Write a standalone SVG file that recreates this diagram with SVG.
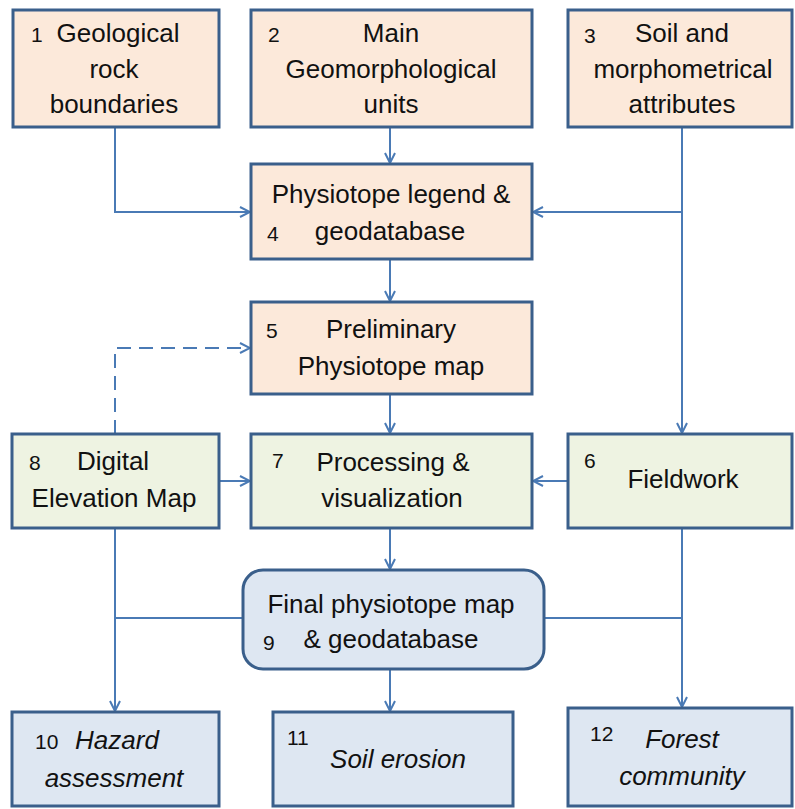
<svg xmlns="http://www.w3.org/2000/svg" width="795" height="809" viewBox="0 0 795 809">
<style>
.box{stroke:#3A5F8B;stroke-width:3}
.peach{fill:#FCE9DA}
.green{fill:#EEF3E2}
.blue{fill:#DEE7F2}
.t{font-family:"Liberation Sans",Arial,sans-serif;font-size:26px;fill:#111}
.c{text-anchor:middle}
.n{font-family:"Liberation Sans",Arial,sans-serif;font-size:21px;fill:#111}
.i{font-style:italic}
.ln{fill:none;stroke:#4A7AB5;stroke-width:2}
.arr{marker-end:url(#ah)}
.dash{stroke-dasharray:14,8}
</style>
<defs>
<marker id="ah" markerUnits="userSpaceOnUse" viewBox="0 0 12 12" refX="11" refY="6" markerWidth="12" markerHeight="12" orient="auto">
<path d="M1,1 L11,6 L1,11" fill="none" stroke="#4A7AB5" stroke-width="2"/>
</marker>
</defs>
<rect width="795" height="809" fill="#fff"/>
<g id="connectors">
<path class="ln arr" d="M115,128 V212 H250"/>
<path class="ln arr" d="M390,128 V163"/>
<path class="ln arr" d="M682,128 V433"/>
<path class="ln arr" d="M682,212 H533"/>
<path class="ln arr" d="M390,259 V301"/>
<path class="ln arr dash" d="M115,434 V348 H250"/>
<path class="ln arr" d="M390,394 V433"/>
<path class="ln arr" d="M219,481 H250"/>
<path class="ln arr" d="M568,481 H533"/>
<path class="ln arr" d="M390,528 V569"/>
<path class="ln arr" d="M115,528 V711"/>
<path class="ln" d="M115,618 H243"/>
<path class="ln arr" d="M682,528 V707"/>
<path class="ln" d="M544,618 H682"/>
<path class="ln arr" d="M390,670 V711"/>
</g>
<g id="n1">
<rect class="box peach" x="13" y="10" width="206" height="117"/>
<text class="n" x="31" y="42">1</text>
<text class="t c" x="118" y="42">Geological</text>
<text class="t c" x="114" y="78">rock</text>
<text class="t c" x="114" y="113">boundaries</text>
</g>
<g id="n2">
<rect class="box peach" x="251" y="10" width="281" height="117"/>
<text class="n" x="268" y="42">2</text>
<text class="t c" x="391" y="42">Main</text>
<text class="t c" x="391" y="78">Geomorphological</text>
<text class="t c" x="391" y="113">units</text>
</g>
<g id="n3">
<rect class="box peach" x="568" y="10" width="224" height="117"/>
<text class="n" x="584" y="43">3</text>
<text class="t c" x="682" y="42">Soil and</text>
<text class="t c" x="683" y="78">morphometrical</text>
<text class="t c" x="682" y="113">attributes</text>
</g>
<g id="n4">
<rect class="box peach" x="251" y="164" width="281" height="95"/>
<text class="t c" x="391" y="203">Physiotope legend &amp;</text>
<text class="n" x="267" y="241">4</text>
<text class="t c" x="390" y="240">geodatabase</text>
</g>
<g id="n5">
<rect class="box peach" x="251" y="302" width="281" height="92"/>
<text class="n" x="266" y="338">5</text>
<text class="t c" x="391" y="338">Preliminary</text>
<text class="t c" x="391" y="375">Physiotope map</text>
</g>
<g id="n8">
<rect class="box green" x="12" y="434" width="207" height="94"/>
<text class="n" x="29" y="470">8</text>
<text class="t c" x="113" y="470">Digital</text>
<text class="t c" x="114" y="507">Elevation Map</text>
</g>
<g id="n7">
<rect class="box green" x="251" y="434" width="281" height="94"/>
<text class="n" x="272" y="468">7</text>
<text class="t c" x="393" y="471">Processing &amp;</text>
<text class="t c" x="392" y="507">visualization</text>
</g>
<g id="n6">
<rect class="box green" x="568" y="434" width="224" height="94"/>
<text class="n" x="584" y="468">6</text>
<text class="t c" x="683" y="488">Fieldwork</text>
</g>
<g id="n9">
<rect class="box blue" x="243" y="570" width="301" height="99" rx="20"/>
<text class="t c" x="391" y="613">Final physiotope map</text>
<text class="n" x="263" y="650">9</text>
<text class="t c" x="391" y="648">&amp; geodatabase</text>
</g>
<g id="n10">
<rect class="box blue" x="12" y="712" width="207" height="94"/>
<text class="n" x="35" y="749">10</text>
<text class="t c i" x="117" y="749">Hazard</text>
<text class="t c i" x="114" y="787">assessment</text>
</g>
<g id="n11">
<rect class="box blue" x="273" y="712" width="240" height="94"/>
<text class="n" x="287" y="745">11</text>
<text class="t c i" x="398" y="768">Soil erosion</text>
</g>
<g id="n12">
<rect class="box blue" x="568" y="708" width="224" height="98"/>
<text class="n" x="590" y="741">12</text>
<text class="t c i" x="682" y="748">Forest</text>
<text class="t c i" x="682" y="785">community</text>
</g>
</svg>
